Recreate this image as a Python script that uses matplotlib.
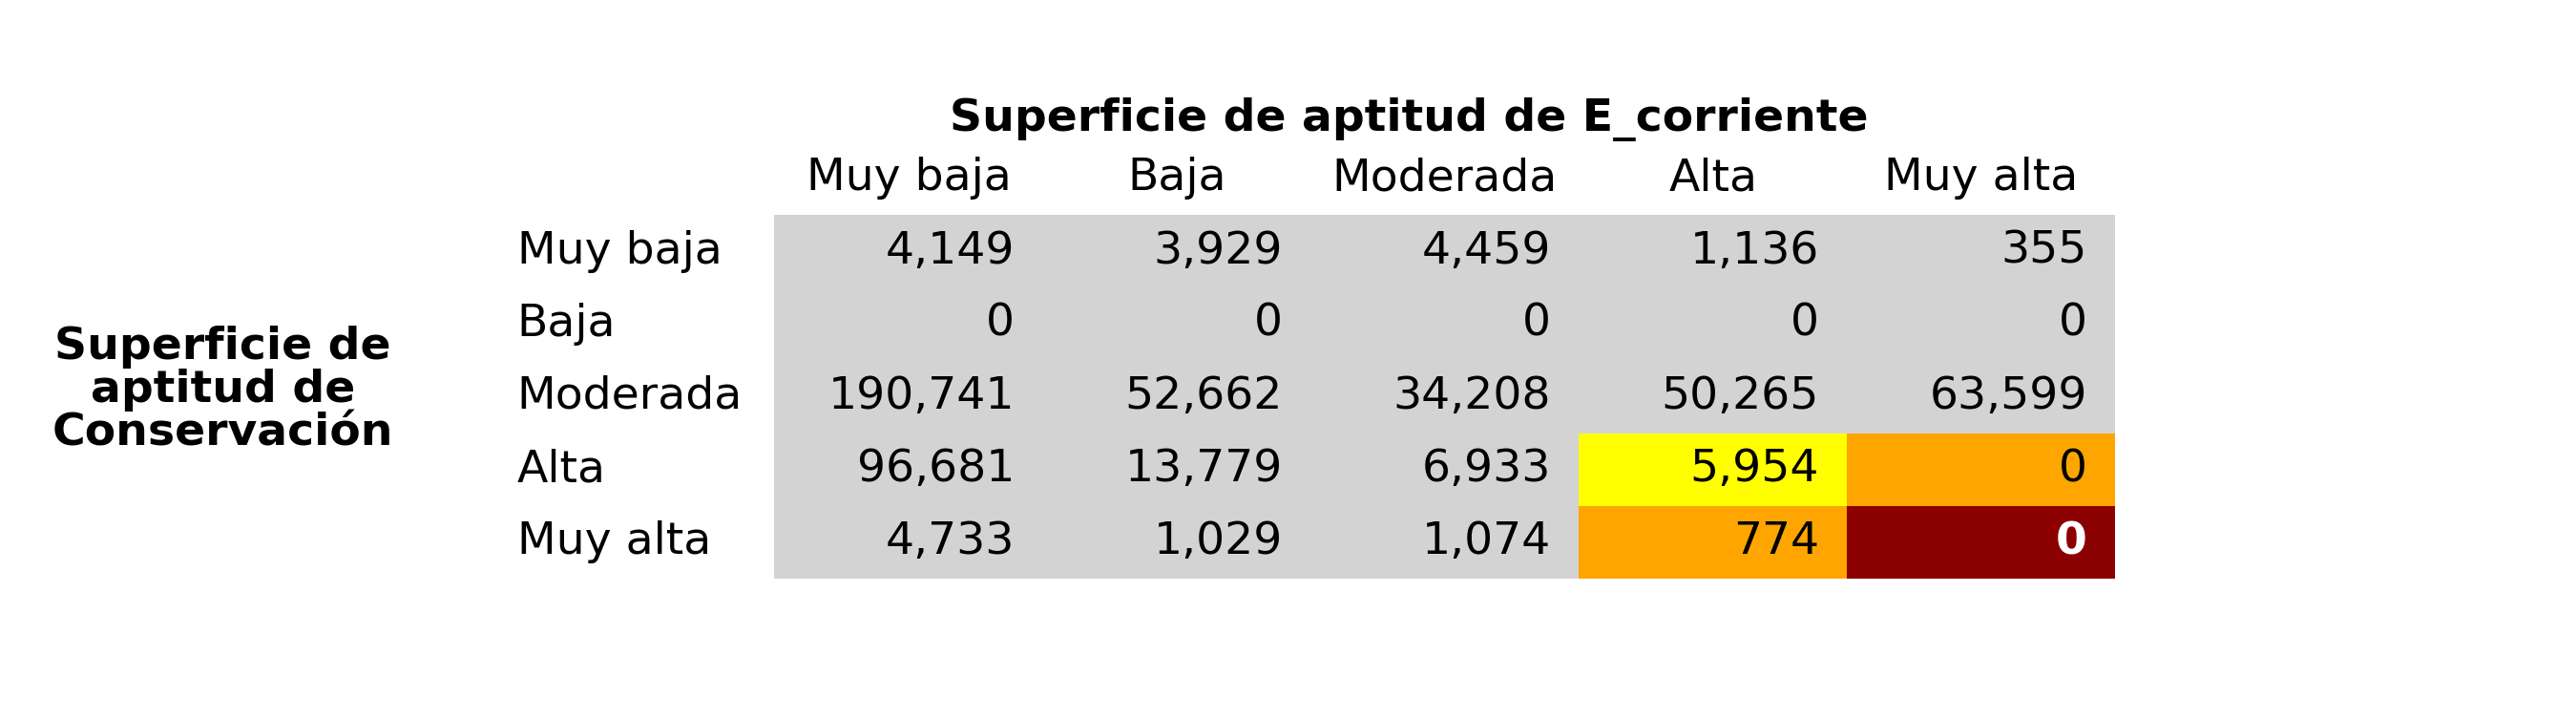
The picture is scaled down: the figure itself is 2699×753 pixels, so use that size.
import matplotlib
matplotlib.use("Agg")
import matplotlib.pyplot as plt
from matplotlib.patches import Rectangle

col_labels = ["Muy baja", "Baja", "Moderada", "Alta", "Muy alta"]
row_labels = ["Muy baja", "Baja", "Moderada", "Alta", "Muy alta"]
values = [
    [4149, 3929, 4459, 1136, 355],
    [0, 0, 0, 0, 0],
    [190741, 52662, 34208, 50265, 63599],
    [96681, 13779, 6933, 5954, 0],
    [4733, 1029, 1074, 774, 0],
]
cell_colors = [
    ["lightgray"] * 5,
    ["lightgray"] * 5,
    ["lightgray"] * 5,
    ["lightgray"] * 3 + ["yellow", "orange"],
    ["lightgray"] * 3 + ["orange", "darkred"],
]
title = "Superficie de aptitud de E_corriente"
row_title = "Superficie de\naptitud de\nConservación"

fig = plt.figure(figsize=(26.99, 7.53), dpi=100)
ax = fig.add_axes([0, 0, 1, 1])
ax.set_xlim(0, 1560)
ax.set_ylim(435, 0)
ax.axis("off")

x0, cw = 469, 162.4
y0, rh = 130, 44
fs = 34
for i, row in enumerate(values):
    for j, v in enumerate(row):
        c = cell_colors[i][j]
        ax.add_patch(Rectangle((x0 + j * cw, y0 + i * rh), cw, rh, color=c, lw=0))
        dark = c == "darkred"
        ax.text(x0 + (j + 1) * cw - 17, y0 + (i + 0.5) * rh, f"{v:,}", ha="right", va="center",
                fontsize=fs, color="white" if dark else "black",
                fontweight="bold" if dark else "normal")
    ax.text(313, y0 + (i + 0.5) * rh, row_labels[i], ha="left", va="center", fontsize=fs)
for j, lab in enumerate(col_labels):
    ax.text(x0 + (j + 0.5) * cw, 108, lab, ha="center", va="center", fontsize=fs)
ax.text(853, 72, title, ha="center", va="center", fontsize=fs, fontweight="bold")
ax.text(135, 236, row_title, ha="center", va="center", fontsize=fs, fontweight="bold", linespacing=1.0)

fig.savefig("out.png", dpi=100)
